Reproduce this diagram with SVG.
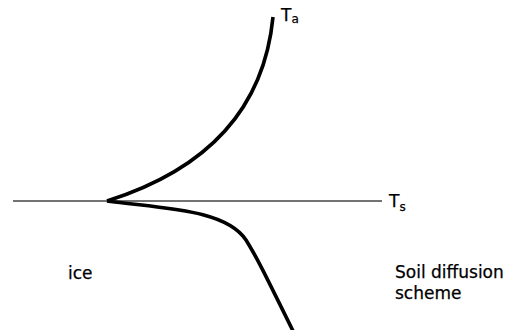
<svg xmlns="http://www.w3.org/2000/svg" width="506" height="330" viewBox="0 0 506 330">
<style>
.lbl{font-family:"DejaVu Sans","Liberation Sans",sans-serif;font-size:17px;fill:#000;stroke:#000;stroke-width:0.25}
.sub{font-size:12px}
.curve{fill:none;stroke:#000;stroke-width:3.6;stroke-linecap:butt;stroke-linejoin:miter}
.axis{stroke:#444;stroke-width:1.3;fill:none}
</style>
<rect width="506" height="330" fill="#fff"/>
<g id="connectors">
<line class="axis" x1="13" y1="201" x2="382" y2="201"/>
<path class="curve" d="M107,201 C180,178 262,130 273,17"/>
<path class="curve" d="M107,201 C168,209 226,210 246,240 C256,256 262,268 294,333"/>
</g>
<g id="label-ta"><text class="lbl" x="281" y="21">T<tspan class="sub" dy="2">a</tspan></text></g>
<g id="label-ts"><text class="lbl" x="389" y="207">T<tspan class="sub" dy="4">s</tspan></text></g>
<g id="label-ice"><text class="lbl" x="68" y="279">ice</text></g>
<g id="label-soil"><text class="lbl" x="395" y="278">Soil diffusion</text><text class="lbl" x="395" y="299">scheme</text></g>
</svg>
